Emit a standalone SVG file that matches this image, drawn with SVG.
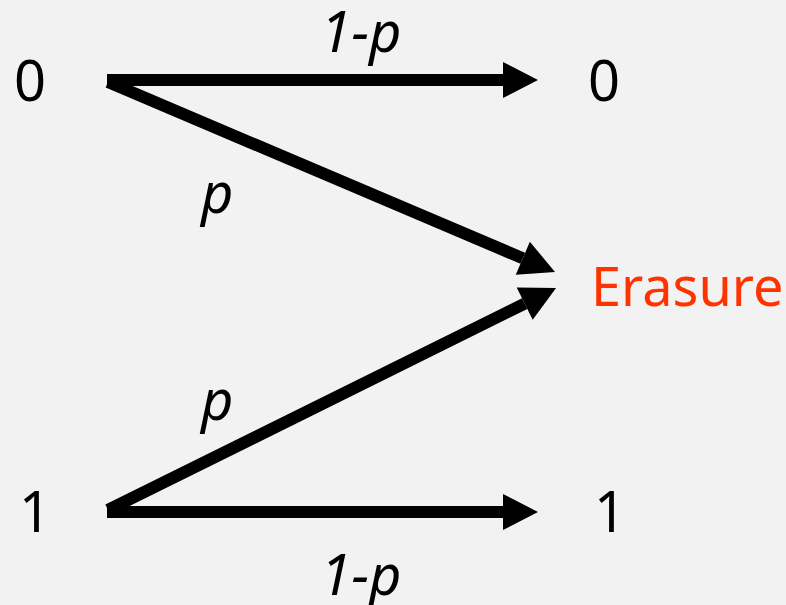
<svg xmlns="http://www.w3.org/2000/svg" width="786" height="605" viewBox="0 0 786 605">
<style>
.lbl{font-family:"Noto Sans","Liberation Sans",sans-serif;font-size:56px;fill:#000}
.it{font-family:"Noto Sans","Liberation Sans",sans-serif;font-style:italic;font-size:56px;fill:#000}
.er{font-family:"Noto Sans","Liberation Sans",sans-serif;font-size:54px;fill:#FF3300}
.edge{stroke:#000;stroke-width:12;fill:none;marker-end:url(#ah)}
</style>
<defs>
<marker id="ah" markerUnits="userSpaceOnUse" markerWidth="40" markerHeight="40" viewBox="0 -20 36 40" refX="0" refY="0" orient="auto">
<path d="M0,-18 L35,0 L0,18 z" fill="#000"/>
</marker>
</defs>
<rect width="786" height="605" fill="#F2F2F2"/>
<g id="in0"><text class="lbl" x="14" y="101">0</text></g>
<g id="in1"><text class="lbl" x="19" y="532">1</text></g>
<g id="out0"><text class="lbl" x="588" y="101">0</text></g>
<g id="out1"><text class="lbl" x="594" y="532">1</text></g>
<g id="erasure"><text class="er" x="591" y="306">Erasure</text></g>
<g id="connectors">
<line class="edge" x1="107" y1="80" x2="503" y2="80"/>
<line class="edge" x1="107" y1="512" x2="503" y2="512"/>
<line class="edge" x1="108" y1="82" x2="522.8" y2="258.3"/>
<line class="edge" x1="108" y1="510" x2="524.7" y2="303.6"/>
<text class="it" x="361" y="52" text-anchor="middle">1-p</text>
<text class="it" x="361" y="595" text-anchor="middle">1-p</text>
<text class="it" x="201" y="213">p</text>
<text class="it" x="201" y="420">p</text>
</g>
</svg>
